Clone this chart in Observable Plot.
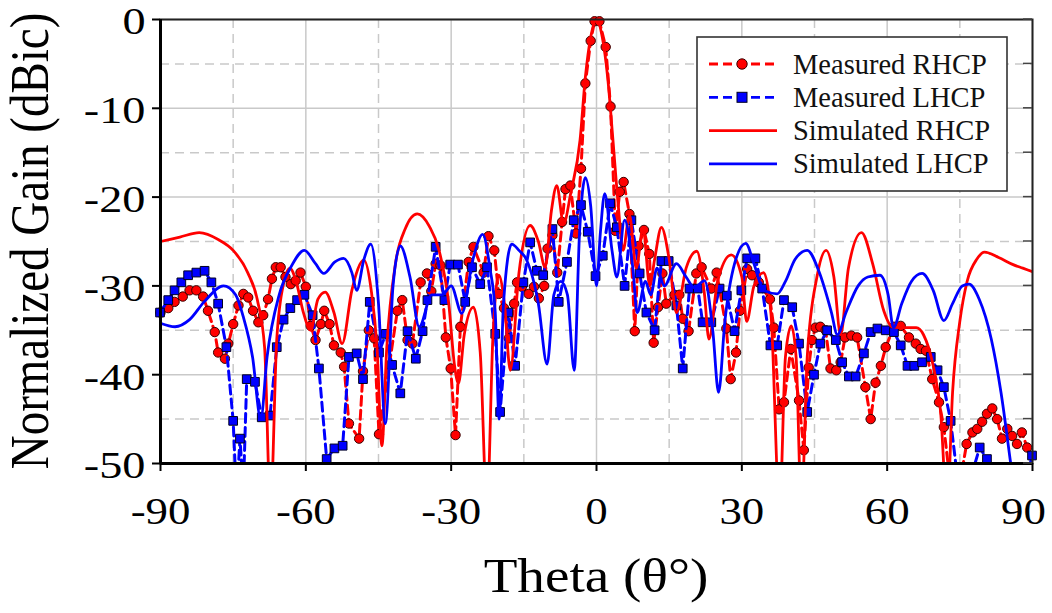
<!DOCTYPE html>
<html><head><meta charset="utf-8">
<script src="https://cdn.jsdelivr.net/npm/d3@7"></script>
<script src="https://cdn.jsdelivr.net/npm/@observablehq/plot@0.6"></script>
<style>body{margin:0;background:#fff} svg{display:block}</style>
</head><body><div id="chart"></div>
<script>
// ---- tick values ----
const xTicks = [-90, -60, -30, 0, 30, 60, 90];
const xMinor = [-75, -45, -15, 15, 45, 75];
const yTicks = [0, -10, -20, -30, -40, -50];
const yMinor = [-5, -15, -25, -35, -45];
const seriesNames = ["Measured RHCP", "Measured LHCP", "Simulated RHCP", "Simulated LHCP"];

// ---- Measured RHCP ----
const measRhcpTheta = [-90.0,-88.4,-87.1,-85.4,-84.0,-82.6,-81.2,-80.2,-78.8,-78.1,-76.7,-76.0,-75.0,-73.9,-72.9,-71.9,-70.9,-69.8,-68.8,-67.8,-67.0,-66.2,-65.2,-64.2,-63.1,-62.1,-61.1,-60.0,-59.0,-58.0,-56.9,-56.2,-55.1,-54.2,-52.8,-52.1,-51.1,-49.0,-48.2,-47.0,-45.9,-44.9,-41.1,-40.1,-39.0,-38.0,-36.3,-35.0,-34.1,-33.2,-32.2,-31.1,-30.1,-29.1,-28.1,-26.4,-25.4,-23.3,-22.3,-21.1,-20.2,-19.1,-18.1,-17.0,-16.4,-15.4,-14.0,-12.9,-11.9,-10.8,-10.1,-9.1,-8.1,-7.1,-6.4,-5.4,-4.2,-3.2,-2.3,-1.2,-0.4,0.6,1.9,2.9,3.9,4.8,5.6,6.8,7.9,8.7,9.8,10.9,11.8,12.7,13.6,14.4,16.1,17.1,17.8,19.0,20.6,21.7,23.7,24.8,26.8,27.7,28.8,29.6,31.1,32.1,33.5,35.8,36.6,37.7,38.7,40.1,41.8,42.8,43.8,44.5,45.2,46.2,47.3,48.3,49.5,50.4,51.3,52.6,53.8,55.5,56.6,57.6,58.7,59.7,61.4,62.8,64.5,65.9,66.9,68.0,69.3,70.7,71.7,73.8,76.4,77.6,78.6,79.6,80.6,81.7,82.7,83.7,84.8,85.8,86.8,87.8,88.9];
const measRhcpGain = [-33.0,-32.5,-31.8,-31.2,-30.5,-30.5,-31.2,-32.8,-35.2,-37.5,-38.2,-36.5,-34.3,-32.2,-30.9,-31.3,-32.8,-34.1,-33.3,-31.5,-29.2,-27.9,-27.9,-29.0,-29.8,-29.4,-28.5,-30.1,-34.5,-36.1,-34.3,-32.8,-34.3,-36.7,-37.5,-39.1,-45.5,-47.2,-39.6,-35.0,-35.9,-46.7,-32.8,-31.6,-36.1,-36.5,-29.6,-28.6,-30.6,-27.5,-27.7,-35.8,-39.3,-46.8,-34.6,-27.3,-25.6,-28.5,-24.4,-26.0,-30.9,-32.5,-35.9,-32.0,-29.6,-30.1,-30.9,-30.1,-31.4,-30.0,-25.8,-24.3,-28.5,-22.8,-19.1,-18.7,-24.1,-16.8,-7.2,-2.4,-0.2,-0.2,-3.1,-9.8,-23.8,-19.4,-18.3,-21.9,-35.1,-25.5,-23.7,-26.4,-36.4,-32.4,-28.6,-32.0,-31.0,-31.0,-33.7,-35.1,-28.6,-27.9,-30.3,-28.5,-34.8,-40.5,-37.5,-32.8,-28.1,-28.8,-29.6,-31.5,-34.7,-43.9,-43.1,-37.1,-42.9,-48.5,-39.2,-36.1,-34.7,-34.6,-35.0,-39.3,-39.5,-38.6,-35.8,-35.6,-35.8,-41.4,-45.0,-40.9,-39.0,-36.9,-34.6,-34.5,-35.8,-36.5,-37.1,-37.3,-40.5,-43.1,-45.9,-56.0,-47.8,-46.5,-46.1,-45.3,-44.4,-43.8,-45.0,-47.2,-46.1,-46.9,-47.8,-46.5,-48.2];

// ---- Measured LHCP ----
const measLhcpTheta = [-90.1,-88.4,-87.1,-85.7,-84.3,-82.6,-80.9,-79.5,-78.1,-76.4,-75.0,-74.3,-73.6,-72.9,-72.2,-70.5,-69.1,-67.4,-66.0,-64.6,-63.2,-61.8,-60.3,-58.6,-57.3,-55.7,-54.1,-52.4,-51.1,-49.5,-48.2,-46.8,-44.9,-43.5,-42.2,-40.5,-39.0,-37.3,-35.9,-34.9,-33.2,-31.4,-30.2,-28.6,-27.1,-25.7,-24.0,-22.6,-20.9,-19.9,-18.2,-16.8,-15.1,-13.7,-12.3,-11.0,-9.1,-7.8,-6.1,-4.7,-3.2,-1.8,-0.2,1.3,2.8,4.2,5.8,7.2,8.9,10.3,12.0,13.4,14.9,16.5,17.8,19.2,20.9,21.9,23.7,25.4,26.9,28.5,29.9,31.1,32.8,34.2,35.9,37.3,38.7,40.4,41.8,43.5,44.9,46.2,47.6,49.4,50.7,52.1,53.5,55.2,56.6,58.0,59.7,61.4,62.8,64.2,65.6,67.2,69.0,70.4,71.7,73.1,74.6,76.1,77.6,79.1,80.6,82.2,88.4,89.9];
const measLhcpGain = [-33.0,-31.6,-30.5,-29.6,-28.8,-28.5,-28.3,-29.6,-32.0,-36.9,-45.2,-54.0,-47.2,-53.0,-40.5,-40.8,-44.8,-44.6,-36.9,-33.8,-32.5,-31.6,-31.0,-33.3,-39.3,-49.5,-48.3,-48.0,-38.0,-37.6,-40.5,-31.8,-37.5,-35.4,-38.9,-42.1,-35.1,-38.2,-35.1,-31.6,-25.6,-31.6,-27.6,-27.6,-31.8,-27.9,-29.8,-27.9,-35.4,-44.2,-33.0,-39.0,-29.6,-25.1,-28.3,-28.8,-23.6,-31.8,-27.3,-22.6,-20.9,-23.9,-28.9,-26.6,-20.7,-23.4,-30.0,-22.6,-28.6,-33.0,-35.0,-27.2,-27.2,-32.2,-39.3,-30.3,-30.3,-34.1,-34.1,-30.3,-31.1,-35.1,-30.5,-26.9,-26.9,-30.3,-36.7,-36.7,-31.6,-32.4,-36.5,-44.2,-40.0,-36.5,-35.0,-36.1,-38.6,-40.2,-40.2,-37.6,-35.2,-34.8,-35.0,-35.2,-36.7,-39.0,-39.0,-38.6,-38.0,-39.5,-41.4,-45.2,-52.0,-56.0,-51.0,-48.2,-49.5,-54.0,-53.0,-49.1];

// ---- Simulated RHCP ----
const simRhcpTheta = [-90,-86,-82,-78,-75,-72,-70,-68.5,-67.3,-66,-64.5,-63.3,-62,-60.5,-59,-57.5,-56,-54.2,-52.5,-50.5,-48,-46.5,-45.3,-44.3,-43.3,-41.5,-39.5,-37,-34.5,-32.5,-30.5,-29.3,-28.5,-27.3,-25.4,-24,-22.6,-21.4,-20.2,-19,-17.8,-16,-13.7,-12,-10.6,-9.3,-8.2,-6.8,-5.3,-3.4,-2.3,-1.2,0,1.2,2.3,3.4,4.5,5.5,6.8,8.2,9.6,11,12,13.4,15,16.5,18.5,20.7,22.3,23.2,25,27.8,30,31,32.5,34.5,36,37.8,39,40.2,41.2,42.3,43.5,45.5,47.4,49,50.4,52,54.7,57,59.3,61,63.5,66,67.5,69.5,71,72.4,73.5,75,76.5,78.5,80.1,83,86,88,90];
const simRhcpGain = [-25.0,-24.5,-24.0,-24.8,-26.0,-28.5,-31.6,-37,-55,-36,-29.5,-28.0,-29.5,-33,-35,-31.5,-30.7,-33,-36.5,-30.5,-27.1,-30.5,-37,-48,-37,-27.5,-23.6,-21.9,-23.3,-26.0,-32.0,-39,-41,-35.5,-32.4,-37.5,-55,-36,-28.8,-32,-39.5,-28.5,-23.2,-25,-27.9,-21.5,-18.7,-23.0,-19.5,-13.6,-6.5,-2.0,0,-2.0,-6.5,-13.6,-21,-26,-22.0,-28,-23.5,-30,-27,-23.4,-27,-33,-28,-26.1,-31,-36,-29.5,-26.5,-29,-34,-30,-28.5,-33,-55,-38,-34.5,-38,-55,-38,-29,-26.0,-29,-35.5,-28,-24.0,-27.5,-32.8,-34.6,-34.7,-34.7,-35.5,-39,-44,-55,-42,-34,-29.5,-27,-26.2,-26.8,-27.6,-28.0,-28.4];

// ---- Simulated LHCP ----
const simLhcpTheta = [-90,-87,-84,-81,-77,-74.5,-72.9,-71,-69.3,-68,-65.5,-63,-60.3,-58,-56.3,-54,-52.2,-50.5,-49.5,-48,-46.6,-45,-43.6,-42,-40.5,-38.5,-36.6,-34,-31.8,-30,-27.8,-25.5,-23.5,-22,-20.9,-20.1,-19.2,-17.5,-16,-14.5,-12,-10.2,-8.8,-7.4,-6,-4.6,-3.5,-2.3,-1.2,0,0.8,1.7,3.2,4.2,5.8,7.5,8.4,10.1,11.2,12.5,14,16.5,18.5,20.2,22.3,24,25.2,26.5,28.5,30.8,32.5,34.5,37.3,39,41,43.5,46,48.5,49.7,51.5,54,56,58.5,60.2,61.3,63,65,67.2,69.5,71.7,73.5,75.5,76.9,79,81.5,83.5,85.5,87,90];
const simLhcpGain = [-34.2,-34.6,-33.8,-31.8,-30.0,-31,-33.5,-38,-45,-38,-31,-27.8,-26.0,-27.5,-28.6,-27.3,-26.9,-28.5,-30.5,-27,-25.3,-32,-45.5,-30,-25.5,-29,-34.6,-31,-31.0,-30,-33.1,-27,-24.2,-28,-33,-45,-32,-25.3,-26,-27,-32,-38.8,-31,-29.5,-31,-39.5,-24,-17.8,-21,-30,-24,-19.6,-26,-29,-22.6,-28,-33,-29.5,-31,-28,-30,-27.5,-29,-30.2,-29.4,-35,-42,-34,-27.5,-25.2,-27.5,-30.5,-30.9,-29.5,-27,-26.0,-28.5,-33,-35.5,-33,-30,-29,-28.8,-31,-34.7,-32,-29.5,-28.6,-30.5,-33.9,-32,-30,-29.8,-31.5,-36,-42,-50,-56,-60];

const toRows = (th, g) => th.map((t, i) => ({theta: t, gain: g[i]}));
const measR = toRows(measRhcpTheta, measRhcpGain);
const measL = toRows(measLhcpTheta, measLhcpGain);
const simR = toRows(simRhcpTheta, simRhcpGain);
const simL = toRows(simLhcpTheta, simLhcpGain);
const visible = d => d.gain >= -50.6;

const RED = "#ff0000", BLUE = "#0000ff", GRID = "#c9c9c9";
const FONT = "'Liberation Serif', 'Times New Roman', serif";

const chart = Plot.plot({
  width: 1052, height: 613,
  marginLeft: 160, marginRight: 20, marginTop: 19, marginBottom: 150,
  style: {fontFamily: FONT, background: "#fff", color: "#000"},
  x: {domain: [-90, 90]},
  y: {domain: [-50, 0]},
  marks: [
    Plot.ruleX(xTicks, {stroke: GRID, strokeWidth: 1.5}),
    Plot.ruleX(xMinor, {stroke: GRID, strokeWidth: 1.5, strokeDasharray: "9,6"}),
    Plot.ruleY(yTicks, {stroke: GRID, strokeWidth: 1.5}),
    Plot.ruleY(yMinor, {stroke: GRID, strokeWidth: 1.5, strokeDasharray: "9,6"}),
    // Measured RHCP
    Plot.line(measR, {x: "theta", y: "gain", stroke: RED, strokeWidth: 3, strokeDasharray: "9,5", clip: true}),
    Plot.dot(measR, {filter: visible, x: "theta", y: "gain", r: 4.7, fill: RED, stroke: "#3a0000", strokeWidth: 1}),
    // Measured LHCP
    Plot.line(measL, {x: "theta", y: "gain", stroke: BLUE, strokeWidth: 3, strokeDasharray: "9,5", clip: true}),
    Plot.dot(measL, {filter: visible, x: "theta", y: "gain", symbol: "square", r: 4.9, fill: BLUE, stroke: "#000022", strokeWidth: 1}),
    // Simulated
    Plot.line(simR, {x: "theta", y: "gain", stroke: RED, strokeWidth: 2.8, curve: "monotone-x", clip: true}),
    Plot.line(simL, {x: "theta", y: "gain", stroke: BLUE, strokeWidth: 2.8, curve: "monotone-x", clip: true}),
    Plot.frame({stroke: "#222", strokeWidth: 2}),
    Plot.ruleX([-90], {stroke: "#000", strokeWidth: 3}),
    Plot.ruleY([-50], {stroke: "#000", strokeWidth: 3}),
    Plot.axisX(xTicks, {tickSize: 8, tickPadding: 26, fontSize: 38, strokeWidth: 2, tickFormat: d => String(d), label: null}),
    Plot.axisY(yTicks, {tickSize: 8, tickPadding: 7, fontSize: 37, strokeWidth: 2, tickFormat: d => String(d), label: null})
  ]
});

document.getElementById("chart").appendChild(chart);
const svg = d3.select(chart);
const sx = chart.scale("x"), sy = chart.scale("y");

// horizontally stretched serif tick labels as in the reference
chart.querySelectorAll('g[aria-label="x-axis tick label"] text').forEach((el, i, all) => {
  const shift = i === all.length - 1 ? " translate(-9,0)" : "";
  el.setAttribute("transform", (el.getAttribute("transform") || "") + shift + " scale(1.18,1)");
});
chart.querySelectorAll('g[aria-label="y-axis tick label"] text').forEach(el => {
  el.setAttribute("transform", (el.getAttribute("transform") || "") + " translate(0,3) scale(1.25,1)");
});

// small inward ticks on the right edge
const xr = sx.apply(90);
svg.append("g").selectAll("line").data(yTicks.concat(yMinor)).join("line")
  .attr("x1", xr - 9).attr("x2", xr).attr("y1", d => sy.apply(d)).attr("y2", d => sy.apply(d))
  .attr("stroke", "#444").attr("stroke-width", 1.5);

// axis titles
const x0 = sx.apply(-90), x1 = sx.apply(90), y0 = sy.apply(0), y1 = sy.apply(-50);
svg.append("text").text("Theta (θ°)")
  .attr("transform", `translate(${(x0 + x1) / 2},${y1 + 118}) scale(1.15,1)`)
  .attr("text-anchor", "middle").attr("dominant-baseline", "middle")
  .attr("font-family", FONT).attr("font-size", 48).attr("fill", "#000");
svg.append("text").text("Normalized Gain (dBic)")
  .attr("transform", `translate(36,${(y0 + y1) / 2}) rotate(-90) scale(1,1.15)`)
  .attr("text-anchor", "middle").attr("dominant-baseline", "middle")
  .attr("font-family", FONT).attr("font-size", 47).attr("fill", "#000");

// legend
const lg = svg.append("g");
lg.append("rect").attr("x", 697).attr("y", 37).attr("width", 310).attr("height", 154)
  .attr("fill", "#fff").attr("stroke", "#333").attr("stroke-width", 1.6);
const rows = [
  {name: seriesNames[0], color: RED, dash: "9,5", marker: "circle"},
  {name: seriesNames[1], color: BLUE, dash: "9,5", marker: "square"},
  {name: seriesNames[2], color: RED, dash: null, marker: null},
  {name: seriesNames[3], color: BLUE, dash: null, marker: null}
];
rows.forEach((r, i) => {
  const y = 64 + i * 33.3;
  lg.append("line").attr("x1", 709).attr("x2", 777).attr("y1", y).attr("y2", y)
    .attr("stroke", r.color).attr("stroke-width", 2.8).attr("stroke-dasharray", r.dash);
  if (r.marker === "circle") lg.append("circle").attr("cx", 742).attr("cy", y).attr("r", 5.2)
    .attr("fill", RED).attr("stroke", "#3a0000").attr("stroke-width", 1);
  if (r.marker === "square") lg.append("rect").attr("x", 737).attr("y", y - 5).attr("width", 10).attr("height", 10)
    .attr("fill", BLUE).attr("stroke", "#000022").attr("stroke-width", 1);
  lg.append("text").text(r.name).attr("x", 793).attr("y", y).attr("text-anchor", "start")
    .attr("dominant-baseline", "central")
    .attr("font-family", FONT).attr("font-size", 28.5).attr("fill", "#111");
});
</script>
</body></html>
